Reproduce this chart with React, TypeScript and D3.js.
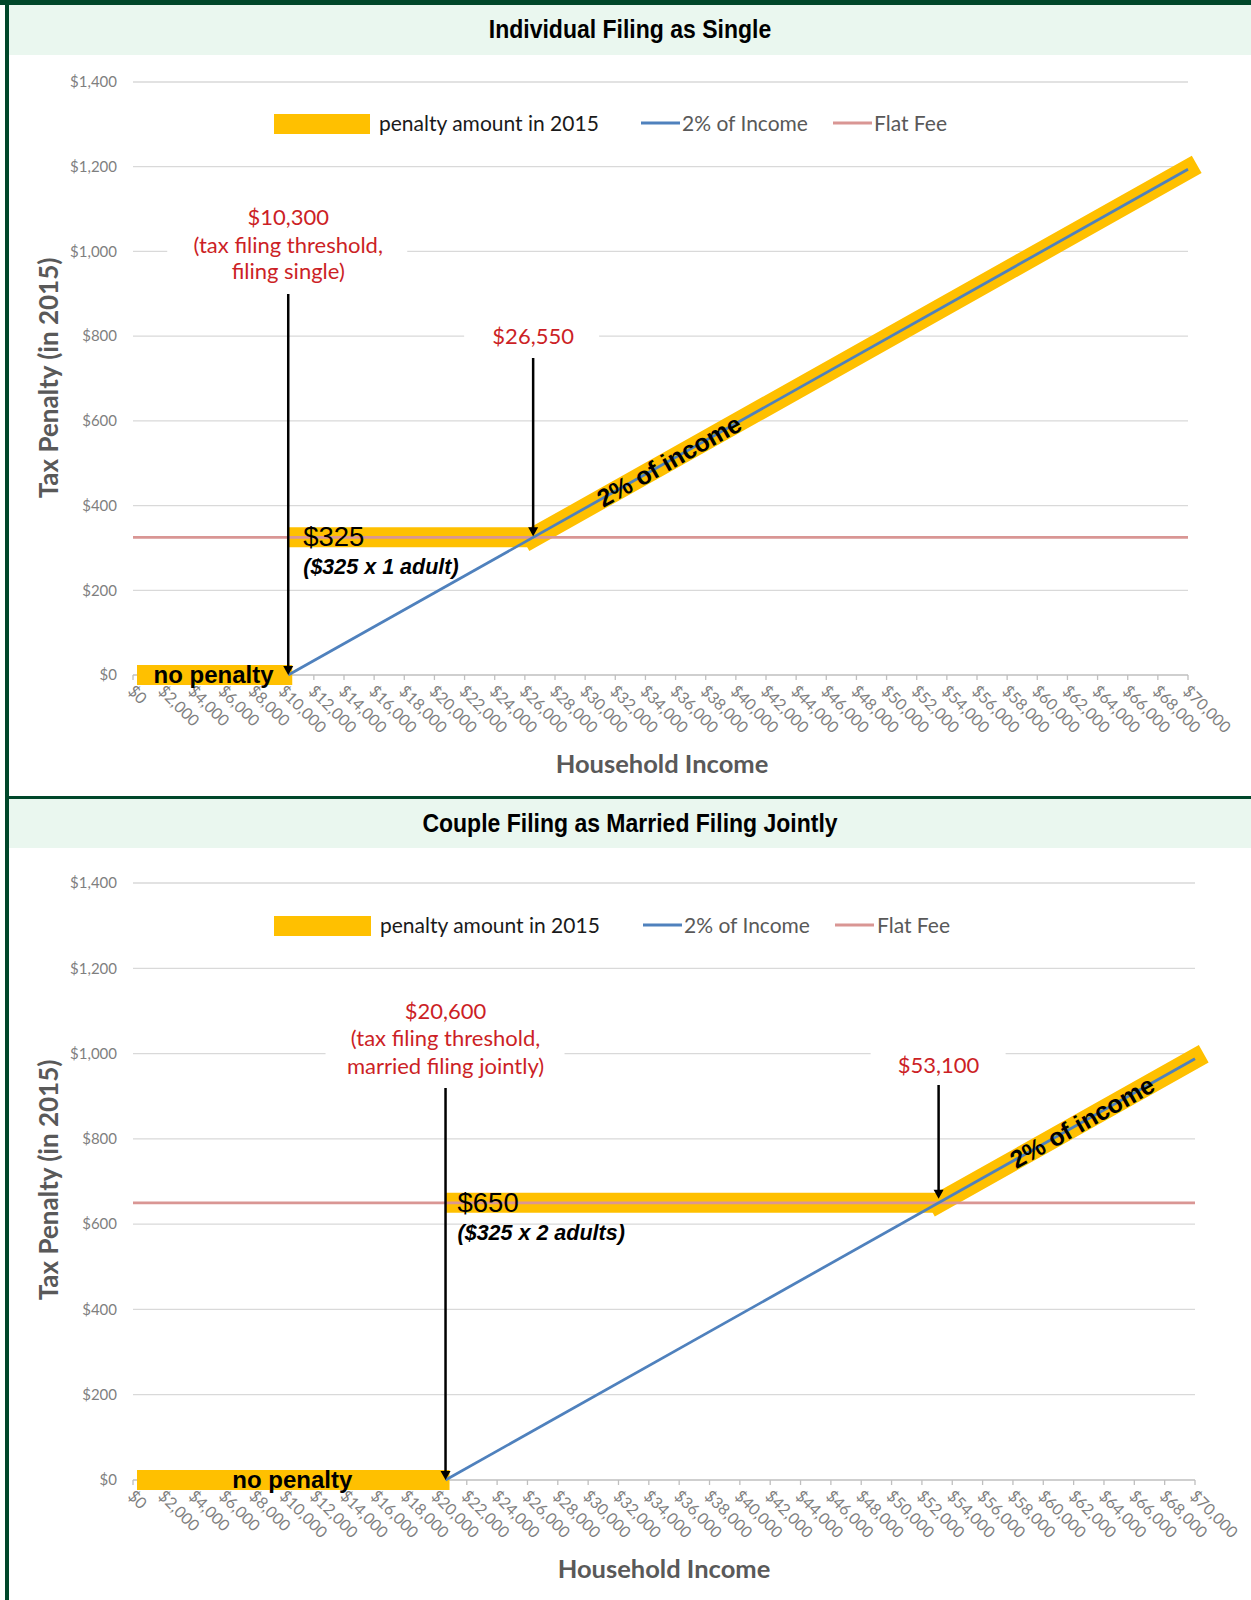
import React from "react";
import * as d3 from "d3";

// ---------- data ----------
const incomeTicks = [0, 2000, 4000, 6000, 8000, 10000, 12000, 14000, 16000, 18000, 20000, 22000, 24000, 26000, 28000, 30000, 32000, 34000, 36000, 38000, 40000, 42000, 44000, 46000, 48000, 50000, 52000, 54000, 56000, 58000, 60000, 62000, 64000, 66000, 68000, 70000];
const penaltyTicks = [0, 200, 400, 600, 800, 1000, 1200, 1400];
const incomeDomain = [0, 70000];
const penaltyDomain = [0, 1400];
const legendLabels = ["penalty amount in 2015", "2% of Income", "Flat Fee"];
const xAxisTitle = "Household Income";
const yAxisTitle = "Tax Penalty (in 2015)";
const pctLabel = "2% of income";
const noPenaltyLabel = "no penalty";

// Individual filing as single
const singleTitle = "Individual Filing as Single";
const singleThreshold = 10300;
const singleFlatFee = 325;
const singleTwoPctIncome = [10300, 70000];
const singleTwoPctPenalty = [0, 1194];
const singlePenaltyIncome = [10300, 26550, 70000];
const singlePenaltyAmount = [325, 325, 1194];
const singleThresholdLabel = ["$10,300", "(tax filing threshold,", "filing single)"];
const singleBreakEven = 26550;
const singleBreakEvenLabel = "$26,550";
const singleFeeLabel = "$325";
const singleFeeNote = "($325 x 1 adult)";

// Couple married filing jointly
const marriedTitle = "Couple Filing as Married Filing Jointly";
const marriedThreshold = 20600;
const marriedFlatFee = 650;
const marriedTwoPctIncome = [20600, 70000];
const marriedTwoPctPenalty = [0, 988];
const marriedPenaltyIncome = [20600, 53100, 70000];
const marriedPenaltyAmount = [650, 650, 988];
const marriedThresholdLabel = ["$20,600", "(tax filing threshold,", "married filing jointly)"];
const marriedBreakEven = 53100;
const marriedBreakEvenLabel = "$53,100";
const marriedFeeLabel = "$650";
const marriedFeeNote = "($325 x 2 adults)";

// ---------- style ----------
const DARK_GREEN = "#00472A";
const LIGHT_GREEN = "#EAF7EF";
const YELLOW = "#FFC000";
const BLUE = "#4F81BD";
const PINK = "#D99694";
const RED = "#CC1F26";
const GRID = "#D9D9D9";
const AXIS = "#BFBFBF";
const TICK_TEXT = "#7F7F7F";
const TITLE_GREY = "#595959";
const CALIBRI = "Lato, 'Open Sans', sans-serif";
const ARIAL = "'Liberation Sans', Arial, sans-serif";

type Layout = {
  bandTop: number; bandBottom: number; titleY: number;
  x0: number; x1: number; yBottom: number; yTop: number;
  legendY: number; legendRect: [number, number]; legendText1: number;
  legendBlue: [number, number]; legendText2: number;
  legendPink: [number, number]; legendText3: number;
  xTitleX: number; xTitleY: number; yTitleX: number; yTitleY: number;
  xLabelY: number;
  thrBaselines: number[]; thrBox: [number, number, number, number]; thrArrowTop: number;
  beBaseline: number; beBox: [number, number, number, number]; beArrowTop: number; beArrowTipOffset: number;
  feeDx: number; pctLabelIncome: number;
};

type PanelProps = {
  title: string; threshold: number; flatFee: number;
  twoPctIncome: number[]; twoPctPenalty: number[];
  penaltyIncome: number[]; penaltyAmount: number[];
  thresholdLabel: string[]; breakEven: number; breakEvenLabel: string;
  feeLabel: string; feeNote: string; L: Layout;
};

const zip = (a: number[], b: number[]): [number, number][] => a.map((v, i) => [v, b[i]]);

function Arrow({ x, y1, y2 }: { x: number; y1: number; y2: number }) {
  return (
    <g>
      <line x1={x} x2={x} y1={y1} y2={y2 - 8} stroke="#000" strokeWidth={2.5} />
      <path d={`M${x - 5},${y2 - 9}L${x + 5},${y2 - 9}L${x},${y2}Z`} fill="#000" />
    </g>
  );
}

function Panel(p: PanelProps) {
  const L = p.L;
  const x = d3.scaleLinear().domain(incomeDomain).range([L.x0, L.x1]);
  const y = d3.scaleLinear().domain(penaltyDomain).range([L.yBottom, L.yTop]);
  const line = d3.line<[number, number]>().x((d) => x(d[0])).y((d) => y(d[1]));
  const money = d3.format("$,");

  const pen = zip(p.penaltyIncome, p.penaltyAmount);
  const noPen: [number, number][] = [[0, 0], [p.threshold, 0]];
  const flatSeg = pen.slice(0, 2);
  const pctSeg = pen.slice(1);
  const blue = zip(p.twoPctIncome, p.twoPctPenalty);
  const pink: [number, number][] = incomeDomain.map((v) => [v, p.flatFee]);

  const [a, b] = pctSeg;
  const ax = x(a[0]), ay = y(a[1]), bx = x(b[0]), by = y(b[1]);
  const ang = (Math.atan2(by - ay, bx - ax) * 180) / Math.PI;
  const t = (L.pctLabelIncome - a[0]) / (b[0] - a[0]);
  const lx = x(L.pctLabelIncome);
  const ly = ay + (by - ay) * t;

  const thrX = x(p.threshold);
  const beX = x(p.breakEven);

  return (
    <g>
      {/* header band */}
      <rect x={9} y={L.bandTop} width={1251 - 9} height={L.bandBottom - L.bandTop} fill={LIGHT_GREEN} />
      <text transform={`translate(630,${L.titleY}) scale(0.92,1)`} dy="0.35em" textAnchor="middle" fontFamily={ARIAL} fontWeight="bold" fontSize={25} fill="#000">
        {p.title}
      </text>

      {/* gridlines */}
      {penaltyTicks.filter((v) => v > 0).map((v) => (
        <line key={"g" + v} x1={L.x0} x2={L.x1} y1={y(v)} y2={y(v)} stroke={GRID} strokeWidth={1.3} />
      ))}
      {penaltyTicks.map((v) => (
        <text key={"yl" + v} x={117} y={y(v)} dy="0.35em" textAnchor="end" fontFamily={CALIBRI} fontSize={15} fill={TICK_TEXT}>
          {money(v)}
        </text>
      ))}

      {/* x axis */}
      <line x1={L.x0} x2={L.x1} y1={y(0)} y2={y(0)} stroke={AXIS} strokeWidth={1.3} />
      {incomeTicks.map((v) => (
        <line key={"t" + v} x1={x(v)} x2={x(v)} y1={y(0)} y2={y(0) + 5} stroke={AXIS} strokeWidth={1.3} />
      ))}
      {incomeTicks.map((v) => (
        <text key={"xl" + v} transform={`translate(${x(v) - 6},${L.xLabelY}) rotate(45)`} fontFamily={CALIBRI} fontSize={16} fill={TICK_TEXT}>
          {money(v)}
        </text>
      ))}

      {/* axis titles */}
      <text x={L.xTitleX} y={L.xTitleY} dy="0.35em" textAnchor="middle" fontFamily={CALIBRI} fontWeight="bold" fontSize={25.5} fill={TITLE_GREY}>
        {xAxisTitle}
      </text>
      <text transform={`translate(${L.yTitleX},${L.yTitleY}) rotate(-90)`} dy="0.35em" textAnchor="middle" fontFamily={CALIBRI} fontWeight="bold" fontSize={26} fill={TITLE_GREY}>
        {yAxisTitle}
      </text>

      {/* legend */}
      <rect x={L.legendRect[0]} y={L.legendY - 10} width={L.legendRect[1] - L.legendRect[0]} height={20} fill={YELLOW} />
      <text x={L.legendText1} y={L.legendY} dy="0.35em" fontFamily={CALIBRI} fontSize={21} fill="#1a1a1a">{legendLabels[0]}</text>
      <line x1={L.legendBlue[0]} x2={L.legendBlue[1]} y1={L.legendY - 1} y2={L.legendY - 1} stroke={BLUE} strokeWidth={3} />
      <text x={L.legendText2} y={L.legendY} dy="0.35em" fontFamily={CALIBRI} fontSize={21} fill={TITLE_GREY}>{legendLabels[1]}</text>
      <line x1={L.legendPink[0]} x2={L.legendPink[1]} y1={L.legendY - 1} y2={L.legendY - 1} stroke={PINK} strokeWidth={3} />
      <text x={L.legendText3} y={L.legendY} dy="0.35em" fontFamily={CALIBRI} fontSize={21} fill={TITLE_GREY}>{legendLabels[2]}</text>

      {/* penalty band */}
      <path d={line(noPen) || ""} stroke={YELLOW} strokeWidth={20} fill="none" strokeLinecap="butt" transform="translate(4,0)" />
      <path d={line(flatSeg) || ""} stroke={YELLOW} strokeWidth={20} fill="none" strokeLinecap="butt" />
      <path d={line(pctSeg) || ""} stroke={YELLOW} strokeWidth={20} fill="none" strokeLinecap="square" />

      {/* flat fee and 2% lines */}
      <path d={line(pink) || ""} stroke={PINK} strokeWidth={2.75} fill="none" />
      <path d={line(blue) || ""} stroke={BLUE} strokeWidth={2.75} fill="none" />

      {/* band labels */}
      <text x={(x(0) + thrX) / 2 + 3} y={y(0) + 8} textAnchor="middle" fontFamily={ARIAL} fontWeight="bold" fontSize={24} fill="#000">
        {noPenaltyLabel}
      </text>
      <text x={thrX + L.feeDx} y={y(p.flatFee) + 9} fontFamily={ARIAL} fontSize={27.5} fill="#000">{p.feeLabel}</text>
      <text x={thrX + L.feeDx} y={y(p.flatFee) + 37} fontFamily={ARIAL} fontWeight="bold" fontStyle="italic" fontSize={21.5} fill="#000">
        {p.feeNote}
      </text>
      <text transform={`translate(${lx},${ly}) rotate(${ang})`} dy="0.35em" textAnchor="middle" fontFamily={ARIAL} fontWeight="bold" fontSize={25} fill="#000">
        {pctLabel}
      </text>

      {/* threshold annotation */}
      <rect x={thrX + L.thrBox[0]} y={L.thrBox[2]} width={L.thrBox[1] - L.thrBox[0]} height={L.thrBox[3] - L.thrBox[2]} fill="#fff" />
      {p.thresholdLabel.map((s, i) => (
        <text key={"thr" + i} x={thrX} y={L.thrBaselines[i]} textAnchor="middle" fontFamily={CALIBRI} fontSize={22} fill={RED}>
          {s}
        </text>
      ))}
      <Arrow x={thrX} y1={L.thrArrowTop} y2={y(0)} />

      {/* break-even annotation */}
      <rect x={beX + L.beBox[0]} y={L.beBox[2]} width={L.beBox[1] - L.beBox[0]} height={L.beBox[3] - L.beBox[2]} fill="#fff" />
      <text x={beX} y={L.beBaseline} textAnchor="middle" fontFamily={CALIBRI} fontSize={22} fill={RED}>
        {p.breakEvenLabel}
      </text>
      <Arrow x={beX} y1={L.beArrowTop} y2={y(p.flatFee) + L.beArrowTipOffset} />
    </g>
  );
}

const singleLayout: Layout = {
  bandTop: 5, bandBottom: 55, titleY: 29,
  x0: 133, x1: 1188, yBottom: 675, yTop: 82,
  legendY: 124, legendRect: [274, 370], legendText1: 379,
  legendBlue: [641, 680], legendText2: 682,
  legendPink: [833, 872], legendText3: 874,
  xTitleX: 662, xTitleY: 764, yTitleX: 49, yTitleY: 378,
  xLabelY: 692,
  thrBaselines: [225, 253, 279], thrBox: [-121, 119, 197, 289], thrArrowTop: 294,
  beBaseline: 344, beBox: [-69, 66, 320, 354], beArrowTop: 358, beArrowTipOffset: -1,
  feeDx: 15, pctLabelIncome: 35570,
};

const marriedLayout: Layout = {
  bandTop: 799, bandBottom: 848, titleY: 823,
  x0: 133, x1: 1195, yBottom: 1480, yTop: 883,
  legendY: 926, legendRect: [274, 371], legendText1: 380,
  legendBlue: [643, 682], legendText2: 684,
  legendPink: [835, 874], legendText3: 877,
  xTitleX: 664, xTitleY: 1569, yTitleX: 49, yTitleY: 1180,
  xLabelY: 1497,
  thrBaselines: [1019, 1046, 1074], thrBox: [-120, 119, 992, 1083], thrArrowTop: 1088,
  beBaseline: 1073, beBox: [-68, 67, 1050, 1081], beArrowTop: 1085, beArrowTipOffset: -4,
  feeDx: 12, pctLabelIncome: 62560,
};

export default function App() {
  return (
    <>
      <style>{"body{margin:0}"}</style>
      <svg width={1251} height={1600} viewBox="0 0 1251 1600" style={{ display: "block", background: "#fff" }}>
        <rect x={0} y={0} width={1251} height={1600} fill="#fff" />
        <Panel
          title={singleTitle} threshold={singleThreshold} flatFee={singleFlatFee}
          twoPctIncome={singleTwoPctIncome} twoPctPenalty={singleTwoPctPenalty}
          penaltyIncome={singlePenaltyIncome} penaltyAmount={singlePenaltyAmount}
          thresholdLabel={singleThresholdLabel} breakEven={singleBreakEven} breakEvenLabel={singleBreakEvenLabel}
          feeLabel={singleFeeLabel} feeNote={singleFeeNote} L={singleLayout}
        />
        <Panel
          title={marriedTitle} threshold={marriedThreshold} flatFee={marriedFlatFee}
          twoPctIncome={marriedTwoPctIncome} twoPctPenalty={marriedTwoPctPenalty}
          penaltyIncome={marriedPenaltyIncome} penaltyAmount={marriedPenaltyAmount}
          thresholdLabel={marriedThresholdLabel} breakEven={marriedBreakEven} breakEvenLabel={marriedBreakEvenLabel}
          feeLabel={marriedFeeLabel} feeNote={marriedFeeNote} L={marriedLayout}
        />
        {/* frame */}
        <rect x={0} y={0} width={1251} height={5} fill={DARK_GREEN} />
        <rect x={5} y={0} width={4} height={1600} fill={DARK_GREEN} />
        <rect x={5} y={796} width={1246} height={3} fill={DARK_GREEN} />
      </svg>
    </>
  );
}
